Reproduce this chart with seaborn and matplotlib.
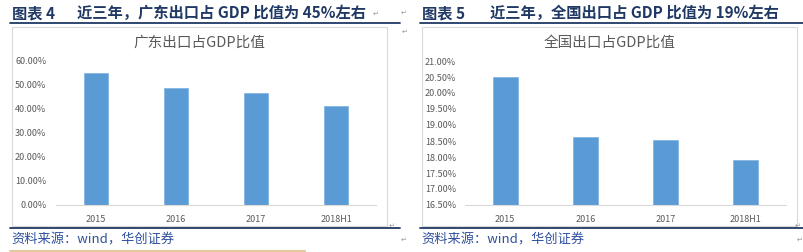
import matplotlib
matplotlib.use("Agg")
import matplotlib.pyplot as plt
from matplotlib.lines import Line2D
from matplotlib.patches import Rectangle
from matplotlib.ticker import FuncFormatter
import seaborn as sns
import pandas as pd

# ---- data ----
categories = ["2015", "2016", "2017", "2018H1"]
guangdong_share = [0.549, 0.4875, 0.467, 0.4125]
national_share = [0.2049, 0.1862, 0.1853, 0.1790]
left_ticks = [0.0, 0.1, 0.2, 0.3, 0.4, 0.5, 0.6]
right_ticks = [0.165, 0.170, 0.175, 0.180, 0.185, 0.190, 0.195, 0.200, 0.205, 0.210]

left_heading = ("图表 4", "近三年，广东出口占 GDP 比值为 45%左右")
right_heading = ("图表 5", "近三年，全国出口占 GDP 比值为 19%左右")
left_title = "广东出口占GDP比值"
right_title = "全国出口占GDP比值"
source_text = "资料来源：wind，华创证券"

sns.set_theme(style="white")
plt.rcParams['font.family'] = ['Noto Sans CJK SC', 'DejaVu Sans']

W, H = 804, 252
fig = plt.figure(figsize=(W / 100, H / 100), dpi=100)
fig.patch.set_facecolor("white")


def fx(x):
    return x / W


def fy(y):
    return 1 - y / H


NAVY = "#1F3864"
BAR = "#5B9BD5"
GRAY_TXT = "#595959"


def panel(x0, x1, hx0, hx1, box_x0, box_x1, ax_x0, ax_x1, heading, title, vals,
          ticks, ylim, ypad):
    # heading
    fig.text(fx(hx0), fy(13), heading[0], fontsize=11, fontweight="bold",
             color=NAVY, va="center", ha="left")
    fig.text(fx(hx1), fy(13), heading[1], fontsize=11, fontweight="bold",
             color=NAVY, va="center", ha="left")
    # heading underline
    fig.add_artist(Line2D([fx(x0), fx(x1)], [fy(23), fy(23)], color=NAVY, lw=1.3))
    # chart box
    fig.add_artist(Rectangle((fx(box_x0), fy(226)), fx(box_x1) - fx(box_x0), fy(27) - fy(226),
                             fill=False, edgecolor="#D9D9D9", lw=0.8))
    # bottom line
    fig.add_artist(Line2D([fx(x0), fx(x1)], [fy(228), fy(228)], color=NAVY, lw=1.3))
    # chart title
    fig.text(fx((box_x0 + box_x1) / 2), fy(43), title, fontsize=10.5, color=GRAY_TXT,
             ha="center", va="center")
    # source
    fig.text(fx(x0 + 1), fy(240), source_text, fontsize=9.5, color="#2F4F9F",
             style="italic", ha="left", va="center")

    ax = fig.add_axes([fx(ax_x0), fy(205), fx(ax_x1) - fx(ax_x0), fy(61) - fy(205)])
    df = pd.DataFrame({"cat": categories, "val": vals})
    sns.barplot(data=df, x="cat", y="val", ax=ax, color=BAR, width=0.31,
                saturation=1, edgecolor="#7FB1E0", linewidth=0.5)
    ax.set_ylim(*ylim)
    ax.set_xlim(-0.5, len(categories) - 0.5)
    ax.set_yticks(ticks)
    ax.yaxis.set_major_formatter(FuncFormatter(lambda v, p: f"{v*100:.2f}%"))
    ax.set_xlabel("")
    ax.set_ylabel("")
    ax.tick_params(axis="both", length=0, labelsize=6.5, labelcolor=GRAY_TXT)
    ax.tick_params(axis="x", pad=7)
    ax.tick_params(axis="y", pad=ypad)
    for s in ["top", "right", "left"]:
        ax.spines[s].set_visible(False)
    ax.spines["bottom"].set_color("#D9D9D9")
    ax.spines["bottom"].set_linewidth(0.8)
    ax.patch.set_alpha(0)
    return ax


panel(10, 400, 12, 77, 12, 387, 56, 376, left_heading, left_title, guangdong_share,
      left_ticks, (0, 0.6), 7)
panel(420, 804, 422, 490, 422, 797, 465, 786, right_heading, right_title, national_share,
      right_ticks, (0.165, 0.21), 6.5)

# Word paragraph marks
for (x, y) in [(376, 14), (404, 13), (405, 32), (392, 226), (798, 226), (404, 240), (800, 240)]:
    fig.text(fx(x), fy(y), "↵", fontsize=5, color="#9A9A9A", ha="center", va="center",
             family="DejaVu Sans")

# tan line at the bottom
fig.add_artist(Line2D([fx(10), fx(305)], [fy(251), fy(251)], color="#E3C99A", lw=1.5))

fig.savefig("out.png", dpi=100)
